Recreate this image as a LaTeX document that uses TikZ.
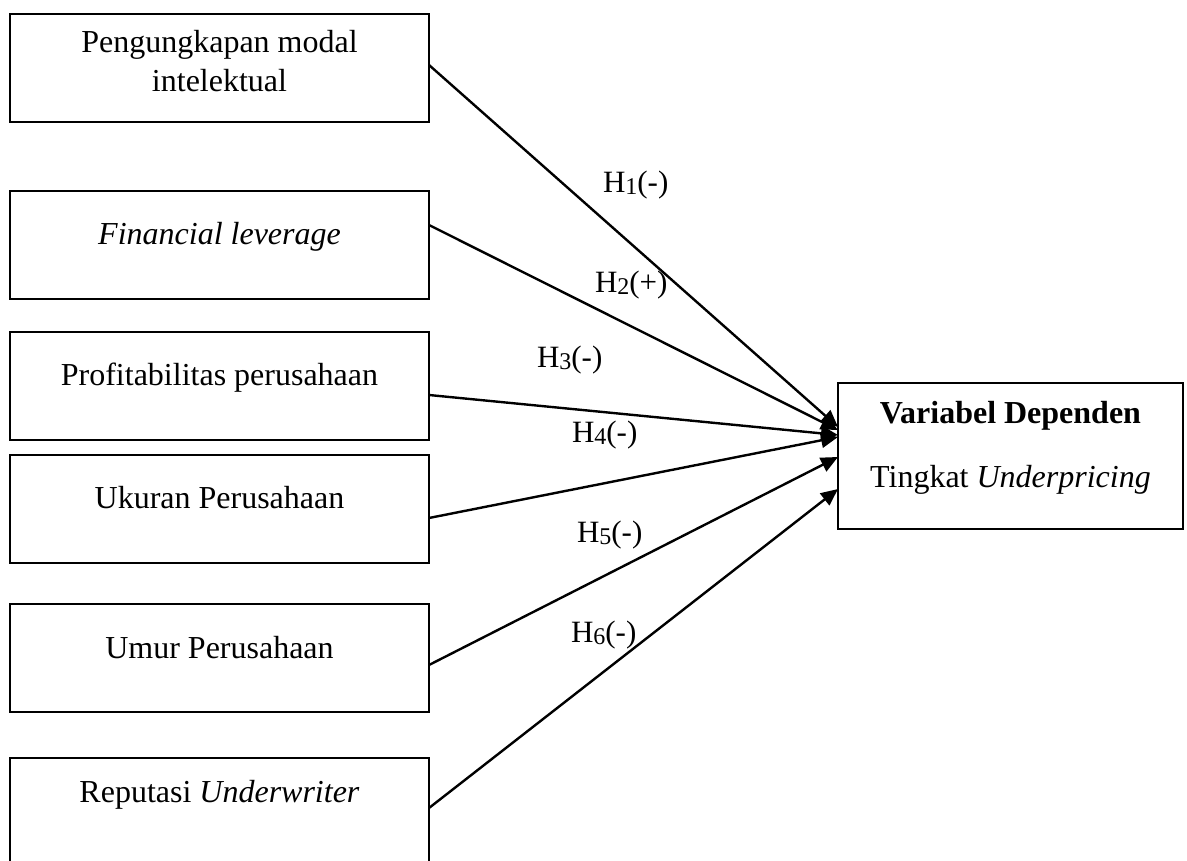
\documentclass[tikz,border=0pt]{standalone}
\usepackage{fontspec}
\setmainfont{Liberation Serif}
\usetikzlibrary{arrows.meta}
\newcommand\hsub[1]{\raisebox{-2pt}{\fontsize{24}{24}\selectfont #1}}
\tikzset{
  box/.style={draw, line width=2.4pt, rectangle, inner sep=0pt, outer sep=0pt},
  lbox/.style={box, minimum width=419pt, minimum height=108pt},
  txt/.style={inner sep=0pt, outer sep=0pt, font=\fontsize{32}{40}\selectfont, anchor=base},
  hlab/.style={inner sep=0pt, outer sep=0pt, font=\fontsize{31}{40}\selectfont, anchor=base west},
  arr/.style={line width=2.4pt, -{Triangle[length=17pt,width=15pt]}}
}
\begin{document}
\begin{tikzpicture}[x=1pt,y=-1pt]
\useasboundingbox (0,0) rectangle (1187,861);
\clip (0,0) rectangle (1187,861);
% left boxes
\node[lbox] (b1) at (219.5,68) {};
\node[lbox] (b2) at (219.5,245) {};
\node[lbox] (b3) at (219.5,386) {};
\node[lbox] (b4) at (219.5,509) {};
\node[lbox] (b5) at (219.5,658) {};
\node[lbox] (b6) at (219.5,812) {};
% right box
\node[box, minimum width=345pt, minimum height=146pt] (dv) at (1010.5,456) {};
% texts
\node[txt] (t1a) at (219.5,53) {Pengungkapan modal};
\node[txt] (t1b) at (219.5,92) {intelektual};
\node[txt] (t2) at (219.5,245) {\itshape Financial leverage};
\node[txt] (t3) at (219.5,385) {Profitabilitas perusahaan};
\node[txt] (t4) at (219.5,508) {Ukuran Perusahaan};
\node[txt] (t5) at (219.5,658) {Umur Perusahaan};
\node[txt] (t6) at (219.5,802) {Reputasi \textit{Underwriter}};
\node[txt] (d1) at (1010.5,423) {\bfseries Variabel Dependen};
\node[txt] (d2) at (1010.5,487) {Tingkat \textit{Underpricing}};
% arrows
\draw[arr] ([yshift=-51pt]b1.north east) -- ([yshift=-44pt]dv.north west);
\draw[arr] ([yshift=-34pt]b2.north east) -- ([yshift=-47pt]dv.north west);
\draw[arr] ([yshift=-63pt]b3.north east) -- ([yshift=-52pt]dv.north west);
\draw[arr] ([yshift=-63pt]b4.north east) -- ([yshift=-54pt]dv.north west);
\draw[arr] ([yshift=-61pt]b5.north east) -- ([yshift=-74pt]dv.north west);
\draw[arr] ([yshift=-50pt]b6.north east) -- ([yshift=-106pt]dv.north west);
% labels
\node[hlab] (h1) at (603,193) {H\hsub{1}(-)};
\node[hlab] (h2) at (595,293) {H\hsub{2}(+)};
\node[hlab] (h3) at (537,367) {H\hsub{3}(-)};
\node[hlab] (h4) at (572,442) {H\hsub{4}(-)};
\node[hlab] (h5) at (577,542) {H\hsub{5}(-)};
\node[hlab] (h6) at (571,642) {H\hsub{6}(-)};
\end{tikzpicture}
\end{document}
